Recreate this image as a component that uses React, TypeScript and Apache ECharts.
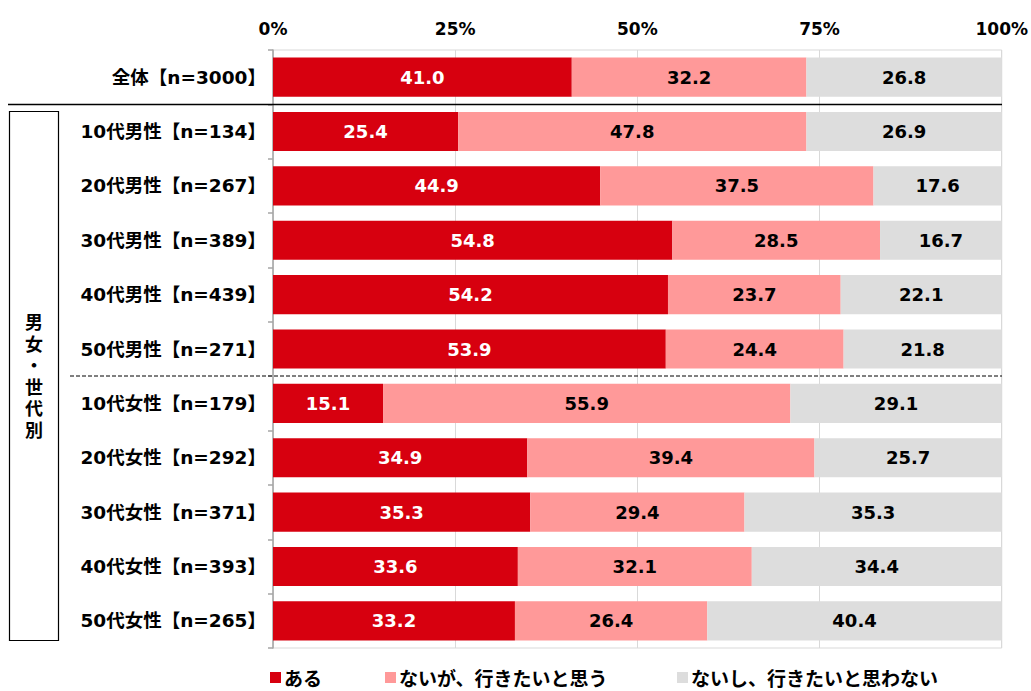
import React, { useEffect, useRef } from "react";
import * as echarts from "echarts";

const categories = [
  "全体【n=3000】",
  "10代男性【n=134】",
  "20代男性【n=267】",
  "30代男性【n=389】",
  "40代男性【n=439】",
  "50代男性【n=271】",
  "10代女性【n=179】",
  "20代女性【n=292】",
  "30代女性【n=371】",
  "40代女性【n=393】",
  "50代女性【n=265】",
];
const seriesNames = ["ある", "ないが、行きたいと思う", "ないし、行きたいと思わない"];
const aru = [41.0, 25.4, 44.9, 54.8, 54.2, 53.9, 15.1, 34.9, 35.3, 33.6, 33.2];
const naiga = [32.2, 47.8, 37.5, 28.5, 23.7, 24.4, 55.9, 39.4, 29.4, 32.1, 26.4];
const naishi = [26.8, 26.9, 17.6, 16.7, 22.1, 21.8, 29.1, 25.7, 35.3, 34.4, 40.4];
const xTicks = [0, 25, 50, 75, 100];

const colors = ["#D7000F", "#FF9999", "#DDDDDD"];
const FONT = "'DejaVu Sans', 'Noto Sans CJK JP', sans-serif";
const CJK = "'Noto Sans CJK JP', sans-serif";

export default function App() {
  const ref = useRef<HTMLDivElement>(null);
  useEffect(() => {
    document.body.style.margin = "0";
    const chart = echarts.init(ref.current!, null, { renderer: "svg" });
    const values = [aru, naiga, naishi];
    const legendLefts = [270, 385, 677];
    chart.setOption({
      animation: false,
      textStyle: { fontFamily: FONT },
      grid: { left: 273, right: 29, top: 50, bottom: 43, show: true, borderColor: "#D9D9D9", borderWidth: 1 },
      xAxis: {
        type: "value",
        position: "top",
        min: 0,
        max: 100,
        interval: 25,
        axisLine: { show: false },
        axisTick: { show: false },
        splitLine: { show: true, lineStyle: { color: "#D9D9D9", width: 1 } },
        axisLabel: {
          formatter: (v: number) => (xTicks.includes(v) ? v + "%" : ""),
          fontSize: 17,
          fontWeight: "bold",
          color: "#000",
          fontFamily: FONT,
          margin: 13,
        },
      },
      yAxis: {
        type: "category",
        inverse: true,
        data: categories,
        axisLine: { show: true, lineStyle: { color: "#A6A6A6", width: 1.5 } },
        axisTick: { show: true, length: 5, lineStyle: { color: "#A6A6A6", width: 1.5 } },
        axisLabel: { fontSize: 18.5, fontWeight: "bold", color: "#000", margin: 7, fontFamily: FONT },
      },
      legend: seriesNames.map((n, i) => ({
        data: [n],
        left: legendLefts[i],
        top: 668,
        icon: "rect",
        itemWidth: 11,
        itemHeight: 11,
        itemGap: 4,
        textStyle: { fontSize: 19, fontWeight: "bold", color: "#000", fontFamily: CJK, padding: [0, 0, 0, -2] },
        padding: 0,
      })),
      series: seriesNames.map((n, i) => ({
        name: n,
        type: "bar",
        stack: "total",
        data: values[i],
        barWidth: "72%",
        itemStyle: { color: colors[i] },
        label: {
          show: true,
          position: "inside",
          formatter: (p: any) => p.value.toFixed(1),
          fontSize: 18,
          fontWeight: "bold",
          color: i === 0 ? "#fff" : "#000",
          fontFamily: FONT,
        },
      })),
      graphic: [
        { type: "line", shape: { x1: 8, y1: 104.5, x2: 1002, y2: 104.5 }, style: { stroke: "#000", lineWidth: 1.5 }, z: 100 },
        { type: "line", shape: { x1: 70, y1: 376, x2: 1002, y2: 376 }, style: { stroke: "#000", lineWidth: 1, lineDash: [4, 2] }, z: 100 },
        { type: "rect", shape: { x: 9.5, y: 111.5, width: 49, height: 529 }, style: { fill: "none", stroke: "#000", lineWidth: 1.2 }, z: 100 },
        {
          type: "text",
          x: 34,
          y: 375,
          style: {
            text: "男\n女\n・\n世\n代\n別",
            fontSize: 18,
            fontWeight: "bold",
            lineHeight: 21.5,
            fill: "#000",
            align: "center",
            verticalAlign: "middle",
            fontFamily: CJK,
          },
          z: 100,
        },
      ],
    });
    return () => chart.dispose();
  }, []);
  return <div ref={ref} style={{ width: 1031, height: 691 }} />;
}
